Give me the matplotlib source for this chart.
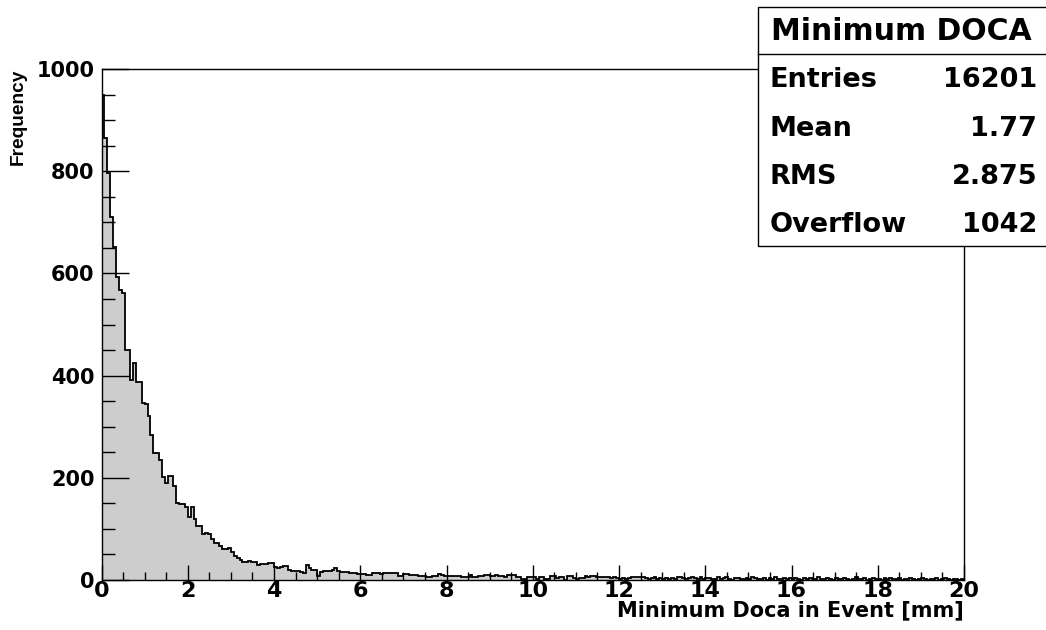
import numpy as np
import matplotlib
matplotlib.use("Agg")
import matplotlib.pyplot as plt
from matplotlib.patches import Rectangle
from matplotlib.ticker import MultipleLocator

plt.rcParams["font.family"] = ["DejaVu Sans"]
WIDE = ["DejaVu Sans"]
NARROW = ["Liberation Sans", "DejaVu Sans"]

# Histogram of the minimum DOCA per event: 300 bins from 0 to 20 mm
x_min, x_max, n_bins = 0.0, 20.0, 300
counts = [
    950, 864, 796, 711, 652, 593, 567, 561, 451, 450, 391, 424, 388, 388, 347,
    344, 320, 284, 249, 249, 235, 202, 189, 203, 203, 183, 151, 148, 148, 143,
    123, 143, 119, 106, 106, 90, 91, 90, 80, 72, 72, 66, 60, 61, 62,
    54, 46, 44, 40, 36, 36, 37, 36, 35, 29, 31, 31, 32, 34, 34,
    25, 24, 26, 27, 27, 19, 18, 18, 17, 15, 14, 29, 23, 20, 20,
    7, 16, 17, 18, 18, 20, 23, 18, 16, 16, 16, 14, 14, 13, 12,
    12, 12, 10, 10, 14, 14, 13, 12, 14, 14, 13, 13, 13, 8, 8,
    12, 12, 10, 10, 9, 8, 8, 8, 5, 5, 8, 8, 12, 10, 7,
    7, 8, 8, 8, 7, 6, 6, 5, 10, 5, 5, 8, 8, 10, 10,
    8, 8, 9, 8, 7, 6, 10, 10, 10, 5, 5, 2, 1, 5, 6,
    6, 1, 5, 5, 2, 2, 8, 8, 3, 5, 5, 0, 8, 8, 3,
    1, 3, 3, 7, 6, 8, 8, 5, 5, 5, 5, 5, 4, 5, 3,
    2, 3, 2, 3, 5, 5, 5, 6, 6, 4, 2, 3, 5, 1, 3,
    2, 4, 1, 3, 2, 5, 5, 3, 1, 4, 6, 3, 2, 5, 1,
    3, 4, 2, 1, 5, 2, 3, 6, 2, 0, 4, 3, 2, 1, 3,
    2, 5, 3, 1, 2, 4, 0, 3, 2, 5, 1, 2, 3, 1, 4,
    2, 3, 1, 0, 3, 2, 4, 1, 2, 5, 2, 1, 3, 2, 0,
    3, 1, 2, 4, 1, 0, 2, 5, 1, 2, 3, 0, 2, 4, 1,
    2, 0, 3, 1, 4, 2, 1, 3, 0, 2, 1, 3, 2, 0, 1,
    3, 1, 0, 2, 1, 4, 0, 2, 3, 1, 0, 2, 1, 0, 1,
]

stats_title = "Minimum DOCA"
stats_labels = ["Entries", "Mean", "RMS", "Overflow"]
stats_values = ["16201", "1.77", "2.875", "1042"]

x_label = "Minimum Doca in Event [mm]"
y_label = "Frequency"

W, H = 1046, 630
fig = plt.figure(figsize=(W / 100, H / 100), dpi=100)
fig.patch.set_facecolor("white")

# plot frame in pixel coordinates
left, right, top, bottom = 101.5, 964, 69, 580
ax = fig.add_axes([left / W, 1 - bottom / H, (right - left) / W, (bottom - top) / H])

edges = np.linspace(x_min, x_max, n_bins + 1)
ax.stairs(counts, edges, fill=True, color="#cdcdcd", baseline=0, zorder=1)
ax.stairs(counts, edges, fill=False, color="black", linewidth=1.3, baseline=0, zorder=2)

ax.set_xlim(x_min, x_max)
ax.set_ylim(0, 1000)

ax.xaxis.set_major_locator(MultipleLocator(2))
ax.xaxis.set_minor_locator(MultipleLocator(0.5))
ax.yaxis.set_major_locator(MultipleLocator(200))
ax.yaxis.set_minor_locator(MultipleLocator(50))

ax.tick_params(axis="x", which="major", direction="in", length=11, width=1.0,
               labelsize=16, pad=1.0, top=False)
ax.tick_params(axis="x", which="minor", direction="in", length=5.5, width=1.0, top=False)
ax.tick_params(axis="y", which="major", direction="in", length=19.5, width=1.0,
               labelsize=15, pad=5, right=False)
ax.tick_params(axis="y", which="minor", direction="in", length=9.5, width=1.0, right=False)
for lab in ax.get_xticklabels() + ax.get_yticklabels():
    lab.set_fontweight("bold")
    lab.set_family(WIDE)

for sp in ax.spines.values():
    sp.set_linewidth(1.0)
    sp.set_color("black")

# axis titles
fig.text(right / W, 1 - 610 / H, x_label, ha="right", va="center",
         fontsize=15, fontweight="bold", family=WIDE)
fig.text(18 / W, 1 - top / H, y_label, ha="center", va="top", rotation=90,
         fontsize=13.8, fontweight="bold", family=NARROW)

# statistics box
bx0, by0, bx1, by1 = 758, 7, 1048, 246
sep_y = 54
box = Rectangle((bx0 / W, 1 - by1 / H), (bx1 - bx0) / W, (by1 - by0) / H,
                transform=fig.transFigure, facecolor="white", edgecolor="black",
                linewidth=1.0, zorder=5)
fig.add_artist(box)
fig.add_artist(plt.Line2D([bx0 / W, 1.0], [1 - sep_y / H, 1 - sep_y / H],
                          transform=fig.transFigure, color="black", linewidth=1.0, zorder=6))
fig.text(((bx0 + 1044) / 2) / W, 1 - 31 / H, stats_title, ha="center", va="center",
         fontsize=21.5, fontweight="bold", family=WIDE, zorder=7)
row_y = [80, 129, 177, 225]
for yy, lab, val in zip(row_y, stats_labels, stats_values):
    fig.text(770 / W, 1 - yy / H, lab, ha="left", va="center",
             fontsize=19.5, fontweight="bold", family=WIDE, zorder=7)
    fig.text(1037 / W, 1 - yy / H, val, ha="right", va="center",
             fontsize=19.5, fontweight="bold", family=WIDE, zorder=7)

fig.savefig("out.png", dpi=100)
